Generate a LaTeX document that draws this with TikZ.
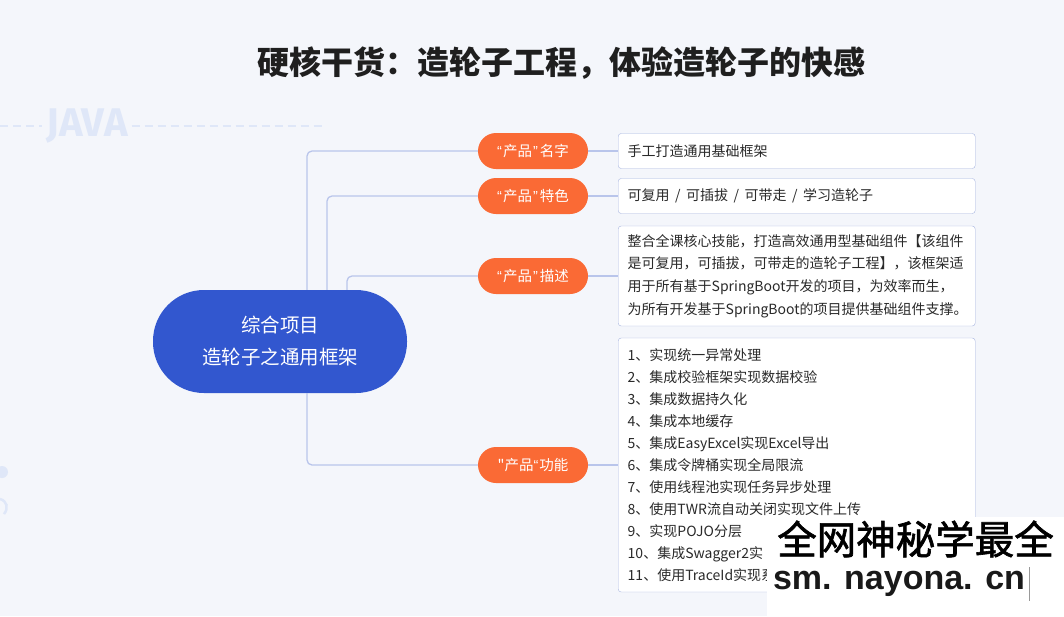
\documentclass[tikz,border=0pt]{standalone}
\usepackage{fontspec}
\setmainfont{Noto Sans CJK SC}
\newfontfamily\cjkraw{Noto Sans CJK SC}
\newfontfamily\stampfont[FakeBold=1.6]{Noto Sans CJK SC}
\newfontfamily\urlfont{Liberation Sans}
\newfontfamily\javafont{Fira Sans}
\usepackage{xcolor}
\usepackage{tikz}

\definecolor{pagebg}{HTML}{F4F6FB}
\definecolor{hubblue}{HTML}{3257CF}
\definecolor{tagorange}{HTML}{FA6A35}
\definecolor{linkblue}{HTML}{B9C5EB}
\definecolor{cardline}{HTML}{A7B5E0}
\definecolor{inktext}{HTML}{2A2A2A}
\definecolor{decoblue}{HTML}{DFE7F8}

% guillemets étroits et séparateur
\newcommand{\oq}{{\urlfont “}\hspace{1pt}}
\newcommand{\cq}{\hspace{1pt}{\urlfont ”}\hspace{2pt}}
\newcommand{\sep}{\hspace{5.5pt}/\hspace{5.5pt}}

\begin{document}
\begin{tikzpicture}[x=1pt, y=-1pt,
                hub/.style={fill=hubblue, text=white, rounded corners=51pt, minimum width=254pt, minimum height=103pt, align=center, font=\fontsize{19.5}{32}\selectfont},
                tag/.style={fill=tagorange, text=white, rounded corners=18pt, minimum width=110pt, minimum height=36pt, inner sep=0pt, font=\fontsize{14.5}{16}\selectfont},
                card/.style={draw=cardline, fill=white, rounded corners=3pt, anchor=west, text width=338pt, inner xsep=9.5pt, inner ysep=0pt, align=left, text=inktext, font=\fontsize{14}{22}\selectfont},
                link/.style={draw=linkblue, line width=1.3pt, rounded corners=5pt},
                headline/.style={text=black!88, font=\fontsize{32}{36}\selectfont\bfseries},
                javamark/.style={text=decoblue, font=\fontsize{40}{40}\javafont\bfseries, inner sep=4pt}
            ]
                % Fond de page
                \fill[pagebg] (0,0) rectangle (1064,616);
                \useasboundingbox (0,0) rectangle (1064,616);

                % Décor : JAVA et pointillés
                \node[javamark] (java) at (87,126) {JAVA};
                \draw[decoblue, line width=1.3pt, dash pattern=on 8pt off 5pt] (0,126) -- (java.west);
                \draw[decoblue, line width=1.3pt, dash pattern=on 8pt off 5pt] (java.east) -- (325,126);
                \fill[decoblue] (2,472) circle (6pt);
                \draw[decoblue, line width=2.5pt] (0,499) .. controls (7,501) and (9,508) .. (4,514);

                % Titre
                \node[headline] (title) at (561.5,63) {硬核干货：造轮子工程，体验造轮子的快感};

                % Nœud central
                \node[hub] (hub) at (280,341.5) {综合项目\\造轮子之通用框架};

                % Étiquettes orange
                \node[tag] (t1) at (533,151) {\oq 产品\cq 名字};
                \node[tag] (t2) at (533,196) {\oq 产品\cq 特色};
                \node[tag] (t3) at (533,276) {\oq 产品\cq 描述};
                \node[tag] (t4) at (533,465) {{\cjkraw"}产品\oq 功能};

                % Cartes de texte
                \node[card, minimum height=35pt] (b1) at (618,151) {手工打造通用基础框架};
                \node[card, minimum height=35pt] (b2) at (618,196) {可复用\sep 可插拔\sep 可带走\sep 学习造轮子};
                \node[card, minimum height=100pt, font=\fontsize{14}{22.7}\selectfont] (b3) at (618,276) {整合全课核心技能，打造高效通用型基础组件【该组件\\是可复用，可插拔，可带走的造轮子工程】，该框架适\\用于所有基于SpringBoot开发的项目，为效率而生，\\为所有开发基于SpringBoot的项目提供基础组件支撑。};
                \node[card, minimum height=254pt] (b4) at (618,465) {1、实现统一异常处理\\2、集成校验框架实现数据校验\\3、集成数据持久化\\4、集成本地缓存\\5、集成EasyExcel实现Excel导出\\6、集成令牌桶实现全局限流\\7、使用线程池实现任务异步处理\\8、使用TWR流自动关闭实现文件上传\\9、实现POJO分层\\10、集成Swagger2实\\11、使用TraceId实现系};

                % Liaisons centre -> étiquettes
                \draw[link] ([xshift=27pt]hub.north) |- (t1);
                \draw[link] ([xshift=47pt]hub.north) |- (t2);
                \draw[link] ([xshift=67pt]hub.north) |- (t3);
                \draw[link] ([xshift=27pt]hub.south) |- (t4);

                % Liaisons étiquettes -> cartes
                \draw[link] (t1) -- (b1);
                \draw[link] (t2) -- (b2);
                \draw[link] (t3) -- (b3);
                \draw[link] (t4) -- (b4);

                % Filigrane en bas à droite
                \fill[white] (767,517) rectangle (1064,616);
                \node[text=black, font=\fontsize{39.5}{44}\stampfont] (slogan) at (915.5,539) {全网神秘学最全};
                \node[text=black!90, font=\fontsize{34}{40}\urlfont\bfseries] (site) at (899,584) {sm. nayona. cn};
                \draw[black!40, line width=1pt] ([xshift=1pt]site.east) ++(0,-17) -- ++(0,34);
            \end{tikzpicture}
\end{document}
